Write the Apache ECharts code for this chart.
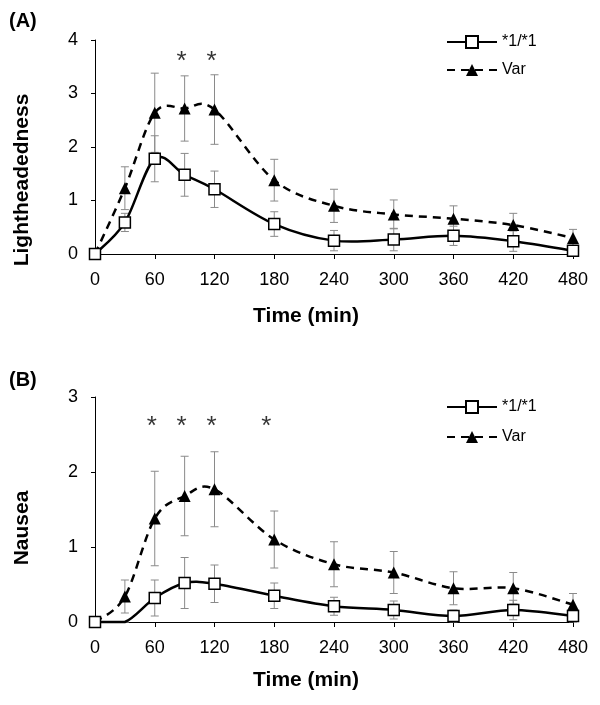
<!DOCTYPE html>
<html>
<head>
<meta charset="utf-8">
<script src="https://cdn.jsdelivr.net/npm/echarts@6/dist/echarts.min.js"></script>
<style>
html,body{margin:0;padding:0;background:#fff;}
#chart{width:600px;height:705px;}
</style>
</head>
<body>
<div id="chart"></div>
<script>
// ---- data ----
const times = [0, 30, 60, 90, 120, 180, 240, 300, 360, 420, 480];
const xTickValues = [0, 60, 120, 180, 240, 300, 360, 420, 480];
const yTicksA = [0, 1, 2, 3, 4];
const yTicksB = [0, 1, 2, 3];
const seriesNames = ['*1/*1', 'Var'];

// (A) Lightheadedness
const lightWtMean  = [0, 0.59, 1.78, 1.48, 1.21, 0.56, 0.25, 0.27, 0.34, 0.24, 0.06];
const lightWtErr   = [0, 0.17, 0.43, 0.40, 0.34, 0.23, 0.19, 0.21, 0.18, 0.19, 0.06];
const lightVarMean = [0, 1.23, 2.64, 2.72, 2.70, 1.38, 0.90, 0.74, 0.66, 0.54, 0.30];
const lightVarErr  = [0, 0.40, 0.74, 0.61, 0.65, 0.39, 0.31, 0.27, 0.24, 0.22, 0.16];
const lightSigTimes = [87, 117];
const lightSigLevel = [3.59, 3.59];

// (B) Nausea
const nauWtMean  = [0, 0, 0.32, 0.52, 0.51, 0.35, 0.21, 0.16, 0.08, 0.16, 0.08];
const nauWtErr   = [0, 0, 0.24, 0.34, 0.25, 0.17, 0.12, 0.12, 0.08, 0.13, 0.08];
const nauVarMean = [0, 0.34, 1.38, 1.68, 1.77, 1.10, 0.77, 0.66, 0.45, 0.45, 0.23];
const nauVarErr  = [0, 0.22, 0.63, 0.53, 0.50, 0.38, 0.30, 0.28, 0.22, 0.21, 0.15];
const nauSigTimes = [57, 87, 117, 172];
const nauSigLevel = [2.60, 2.60, 2.60, 2.60];
const nauWtHiddenMarkerTimes = [30];

// ---- build ----
const FONT = '"Liberation Sans", Arial, sans-serif';
const chart = echarts.init(document.getElementById('chart'), null, {renderer: 'canvas'});

function errRender(params, api) {
  const x = api.value(0), lo = api.value(1), hi = api.value(2);
  const pHi = api.coord([x, hi]);
  const pLo = api.coord([x, lo]);
  const w = 4;
  const st = {stroke: '#8a8a8a', lineWidth: 1};
  return {
    type: 'group',
    children: [
      {type: 'line', shape: {x1: pHi[0], y1: pHi[1], x2: pLo[0], y2: pLo[1]}, style: st},
      {type: 'line', shape: {x1: pHi[0] - w, y1: pHi[1], x2: pHi[0] + w, y2: pHi[1]}, style: st},
      {type: 'line', shape: {x1: pLo[0] - w, y1: pLo[1], x2: pLo[0] + w, y2: pLo[1]}, style: st}
    ]
  };
}

function errSeries(idx, mean, err) {
  return {
    type: 'custom', xAxisIndex: idx, yAxisIndex: idx, z: 1,
    renderItem: errRender,
    encode: {x: 0, y: [1, 2]},
    data: times.map((t, i) => [t, mean[i] - err[i], mean[i] + err[i]]),
    silent: true
  };
}

// smooth curve (Catmull-Rom style bezier, as in spreadsheet "smoothed line")
function curveSeries(idx, mean, dash, z) {
  return {
    type: 'custom', xAxisIndex: idx, yAxisIndex: idx, z: z, silent: true,
    encode: {x: 0, y: 1},
    data: times.map((t, i) => [t, mean[i]]),
    renderItem: function (params, api) {
      if (params.dataIndex !== 0) return null;
      const pts = times.map((t, i) => api.coord([t, mean[i]]));
      const floorY = api.coord([0, 0])[1];
      const n = pts.length;
      const cl = (y) => Math.min(y, floorY);
      let d = 'M' + pts[0][0] + ' ' + pts[0][1];
      for (let i = 0; i < n - 1; i++) {
        const p0 = pts[Math.max(i - 1, 0)], p1 = pts[i], p2 = pts[i + 1], p3 = pts[Math.min(i + 2, n - 1)];
        const c1 = [p1[0] + (p2[0] - p0[0]) / 6, cl(p1[1] + (p2[1] - p0[1]) / 6)];
        const c2 = [p2[0] - (p3[0] - p1[0]) / 6, cl(p2[1] - (p3[1] - p1[1]) / 6)];
        d += ' C' + c1[0] + ' ' + c1[1] + ' ' + c2[0] + ' ' + c2[1] + ' ' + p2[0] + ' ' + p2[1];
      }
      return {
        type: 'path', shape: {pathData: d},
        style: {fill: null, stroke: '#000', lineWidth: 2.5, lineDash: dash}
      };
    }
  };
}

function wtSeries(idx, mean, hidden) {
  return {
    name: seriesNames[0], type: 'line', xAxisIndex: idx, yAxisIndex: idx, z: 5,
    symbol: 'rect', symbolSize: 11,
    itemStyle: {color: '#fff', borderColor: '#000', borderWidth: 1.5},
    lineStyle: {color: '#000', width: 2.5, opacity: 0},
    data: times.map((t, i) => (hidden && hidden.indexOf(t) >= 0)
      ? {value: [t, mean[i]], symbol: 'none'} : [t, mean[i]])
  };
}

function varSeries(idx, mean) {
  return {
    name: seriesNames[1], type: 'line', xAxisIndex: idx, yAxisIndex: idx, z: 4,
    symbol: 'triangle', symbolSize: 12,
    itemStyle: {color: '#000'},
    lineStyle: {color: '#000', width: 2.5, type: [8, 6], opacity: 0},
    data: times.map((t, i) => [t, mean[i]])
  };
}

function sigSeries(idx, ts, lv) {
  return {
    type: 'scatter', xAxisIndex: idx, yAxisIndex: idx, z: 6,
    symbolSize: 1, itemStyle: {color: 'rgba(0,0,0,0)'},
    label: {show: true, position: 'inside', formatter: '*', color: '#000',
            fontFamily: FONT, fontSize: 26},
    data: ts.map((t, i) => [t, lv[i]]),
    silent: true
  };
}

function xAxis(idx) {
  return {
    type: 'value', gridIndex: idx,
    min: xTickValues[0], max: xTickValues[xTickValues.length - 1],
    interval: xTickValues[1] - xTickValues[0],
    axisLine: {lineStyle: {color: '#000', width: 1}},
    axisTick: {show: true, length: 5, lineStyle: {color: '#000'}},
    axisLabel: {color: '#000', fontSize: 18, fontFamily: FONT, margin: 17},
    splitLine: {show: false}
  };
}
function yAxis(idx, ticks) {
  return {
    type: 'value', gridIndex: idx,
    min: ticks[0], max: ticks[ticks.length - 1], interval: ticks[1] - ticks[0],
    axisLine: {show: true, lineStyle: {color: '#000', width: 1}},
    axisTick: {show: true, length: 4, lineStyle: {color: '#000'}},
    axisLabel: {color: '#000', fontSize: 18, fontFamily: FONT, margin: 17},
    splitLine: {show: false}
  };
}

function legend(top, gap) {
  return {
    data: seriesNames, orient: 'vertical', left: 441, top: top,
    itemWidth: 50, itemHeight: 15, itemGap: gap,
    lineStyle: {opacity: 1},
    textStyle: {color: '#000', fontSize: 16, fontFamily: FONT},
    selectedMode: false
  };
}

const option = {
  animation: false,
  backgroundColor: '#fff',
  textStyle: {fontFamily: FONT},
  grid: [
    {left: 95, top: 40, width: 478, height: 214},
    {left: 95, top: 397, width: 478, height: 225}
  ],
  xAxis: [xAxis(0), xAxis(1)],
  yAxis: [yAxis(0, yTicksA), yAxis(1, yTicksB)],
  legend: [legend(29, 12), legend(394, 14)],
  graphic: [
    {type: 'text', left: 9, top: 11, style: {text: '(A)', font: 'bold 20px ' + FONT, fill: '#000'}},
    {type: 'text', left: 9, top: 370, style: {text: '(B)', font: 'bold 20px ' + FONT, fill: '#000'}},
    {type: 'text', x: 22, y: 180, rotation: Math.PI / 2,
     style: {text: 'Lightheadedness', font: 'bold 21px ' + FONT, fill: '#000', align: 'center', verticalAlign: 'middle'}},
    {type: 'text', x: 22, y: 528, rotation: Math.PI / 2,
     style: {text: 'Nausea', font: 'bold 21px ' + FONT, fill: '#000', align: 'center', verticalAlign: 'middle'}},
    {type: 'text', x: 306, y: 316,
     style: {text: 'Time (min)', font: 'bold 21px ' + FONT, fill: '#000', align: 'center', verticalAlign: 'middle'}},
    {type: 'text', x: 306, y: 680,
     style: {text: 'Time (min)', font: 'bold 21px ' + FONT, fill: '#000', align: 'center', verticalAlign: 'middle'}}
  ],
  series: [
    errSeries(0, lightVarMean, lightVarErr),
    errSeries(0, lightWtMean, lightWtErr),
    curveSeries(0, lightVarMean, [8, 6], 2),
    curveSeries(0, lightWtMean, null, 3),
    varSeries(0, lightVarMean),
    wtSeries(0, lightWtMean),
    sigSeries(0, lightSigTimes, lightSigLevel),
    errSeries(1, nauVarMean, nauVarErr),
    errSeries(1, nauWtMean, nauWtErr),
    curveSeries(1, nauVarMean, [8, 6], 2),
    curveSeries(1, nauWtMean, null, 3),
    varSeries(1, nauVarMean),
    wtSeries(1, nauWtMean, nauWtHiddenMarkerTimes),
    sigSeries(1, nauSigTimes, nauSigLevel)
  ]
};
chart.setOption(option);
</script>
</body>
</html>
